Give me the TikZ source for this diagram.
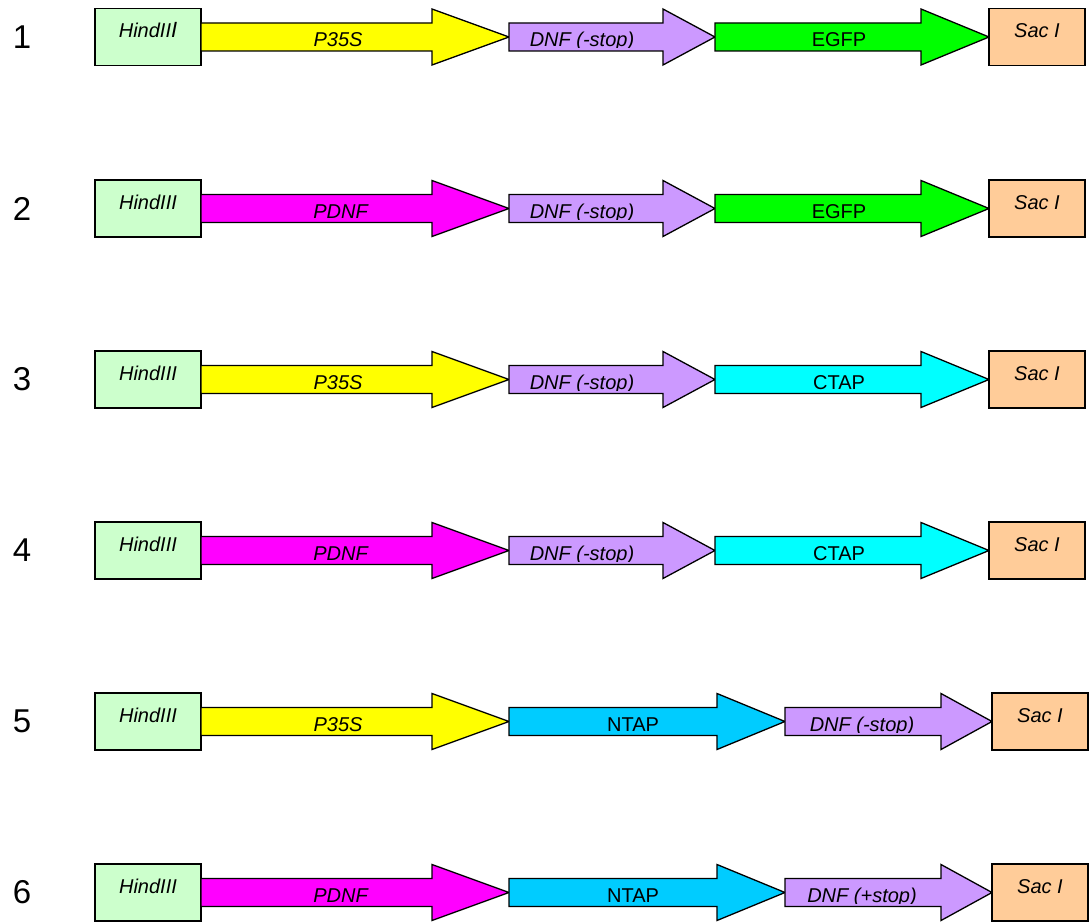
\documentclass[tikz,border=0pt]{standalone}
\usepackage{fontspec}
\setmainfont{Liberation Sans}
\definecolor{HindGreen}{HTML}{CCFFCC}
\definecolor{SacOrange}{HTML}{FFCC99}
\definecolor{PromYellow}{HTML}{FFFF00}
\definecolor{PromMagenta}{HTML}{FF00FF}
\definecolor{DnfPurple}{HTML}{CC99FF}
\definecolor{GfpGreen}{HTML}{00FF00}
\definecolor{CtapCyan}{HTML}{00FFFF}
\definecolor{NtapBlue}{HTML}{00CCFF}
\begin{document}
\begin{tikzpicture}[
        %Environment Config
        x=1pt, y=-1pt,
        line width=1.3pt,
        SiteBox/.style={%Style for the restriction sites
            draw,
            rectangle,
            inner sep=0pt,
            minimum width=106pt,
            text height=29pt,
            text depth=28pt,
            font=\fontsize{20}{24}\selectfont\itshape
        },
        SacBox/.style={%Sac I end is narrower
            SiteBox,
            fill=SacOrange,
            minimum width=96pt
        },
        GeneText/.style={%Style for the text in the arrows
            anchor=base,
            inner sep=0pt,
            font=\fontsize{20}{24}\selectfont
        },
        RowNumber/.style={%Style for the construct numbers
            inner sep=0pt,
            font=\fontsize{33}{40}\selectfont
        }
    ]
    \def\MyGene(#1)#2#3#4#5#6#7{%Customized block arrow
        \begin{scope}[shift={(#1)}]
            %Arrow Shape
            \fill[#4] (0,-14) -- (#2,-14) -- (#2,-28) -- ({#2+#3},0)
                -- (#2,28) -- (#2,14) -- (0,14) -- cycle;
            % Label, cut off just under the baseline
            \begin{scope}
                \clip (0,-14) rectangle (#2,11);
                \node[GeneText] (#7) at (#5,10) {#6};
            \end{scope}
            \draw[line join=miter] (0,-14) -- (#2,-14) -- (#2,-28) -- ({#2+#3},0)
                -- (#2,28) -- (#2,14) -- (0,14) -- cycle;
        \end{scope}
    }
    \useasboundingbox (0,0) rectangle (1092,923);

    %%%%%%%%%%%%%%%%%%%%%%%%%%%%%%%%%%%%%%%%%%%%%%%%%%%%%%%%%%%%%%%%%%%%%%%%%%%%
    % CONSTRUCTS
    %%%%%%%%%%%%%%%%%%%%%%%%%%%%%%%%%%%%%%%%%%%%%%%%%%%%%%%%%%%%%%%%%%%%%%%%%%%%
    % construct 1
    \node[RowNumber] (N1) at (22,37) {1};
    \node[SiteBox, fill=HindGreen] (H1) at (148,37) {HindII{\fontsize{22}{24}\selectfont I}};
    \MyGene(201,37){231}{77}{PromYellow}{137}{\textit{P35S}}{P1}
    \MyGene(509,37){154}{52}{DnfPurple}{73}{\textit{DNF (-stop)}}{D1}
    \MyGene(715,37){206}{68}{GfpGreen}{124}{EGFP}{G1}
    \node[SacBox] (S1) at (1037,37) {Sac I};

    % construct 2
    \node[RowNumber] (N2) at (22,208.5) {2};
    \node[SiteBox, fill=HindGreen] (H2) at (148,208.5) {HindIII};
    \MyGene(201,208.5){231}{77}{PromMagenta}{140}{\textit{PDNF}}{P2}
    \MyGene(509,208.5){154}{52}{DnfPurple}{73}{\textit{DNF (-stop)}}{D2}
    \MyGene(715,208.5){206}{68}{GfpGreen}{124}{EGFP}{G2}
    \node[SacBox] (S2) at (1037,208.5) {Sac I};

    % construct 3
    \node[RowNumber] (N3) at (22,379.5) {3};
    \node[SiteBox, fill=HindGreen] (H3) at (148,379.5) {HindIII};
    \MyGene(201,379.5){231}{77}{PromYellow}{137}{\textit{P35S}}{P3}
    \MyGene(509,379.5){154}{52}{DnfPurple}{73}{\textit{DNF (-stop)}}{D3}
    \MyGene(715,379.5){206}{68}{CtapCyan}{124}{CTAP}{C3}
    \node[SacBox] (S3) at (1037,379.5) {Sac I};

    % construct 4
    \node[RowNumber] (N4) at (22,550.5) {4};
    \node[SiteBox, fill=HindGreen] (H4) at (148,550.5) {HindIII};
    \MyGene(201,550.5){231}{77}{PromMagenta}{140}{\textit{PDNF}}{P4}
    \MyGene(509,550.5){154}{52}{DnfPurple}{73}{\textit{DNF (-stop)}}{D4}
    \MyGene(715,550.5){206}{68}{CtapCyan}{124}{CTAP}{C4}
    \node[SacBox] (S4) at (1037,550.5) {Sac I};

    % construct 5
    \node[RowNumber] (N5) at (22,721.5) {5};
    \node[SiteBox, fill=HindGreen] (H5) at (148,721.5) {HindIII};
    \MyGene(201,721.5){231}{77}{PromYellow}{137}{\textit{P35S}}{P5}
    \MyGene(509,721.5){208}{68}{NtapBlue}{124}{NTAP}{T5}
    \MyGene(785,721.5){156}{51}{DnfPurple}{77}{\textit{DNF (-stop)}}{D5}
    \node[SacBox] (S5) at (1040,721.5) {Sac I};

    % construct 6
    \node[RowNumber] (N6) at (22,892.5) {6};
    \node[SiteBox, fill=HindGreen] (H6) at (148,892.5) {HindIII};
    \MyGene(201,892.5){231}{77}{PromMagenta}{140}{\textit{PDNF}}{P6}
    \MyGene(509,892.5){208}{68}{NtapBlue}{124}{NTAP}{T6}
    \MyGene(785,892.5){156}{51}{DnfPurple}{77}{\textit{DNF (+stop)}}{D6}
    \node[SacBox] (S6) at (1040,892.5) {Sac I};
\end{tikzpicture}
\end{document}
